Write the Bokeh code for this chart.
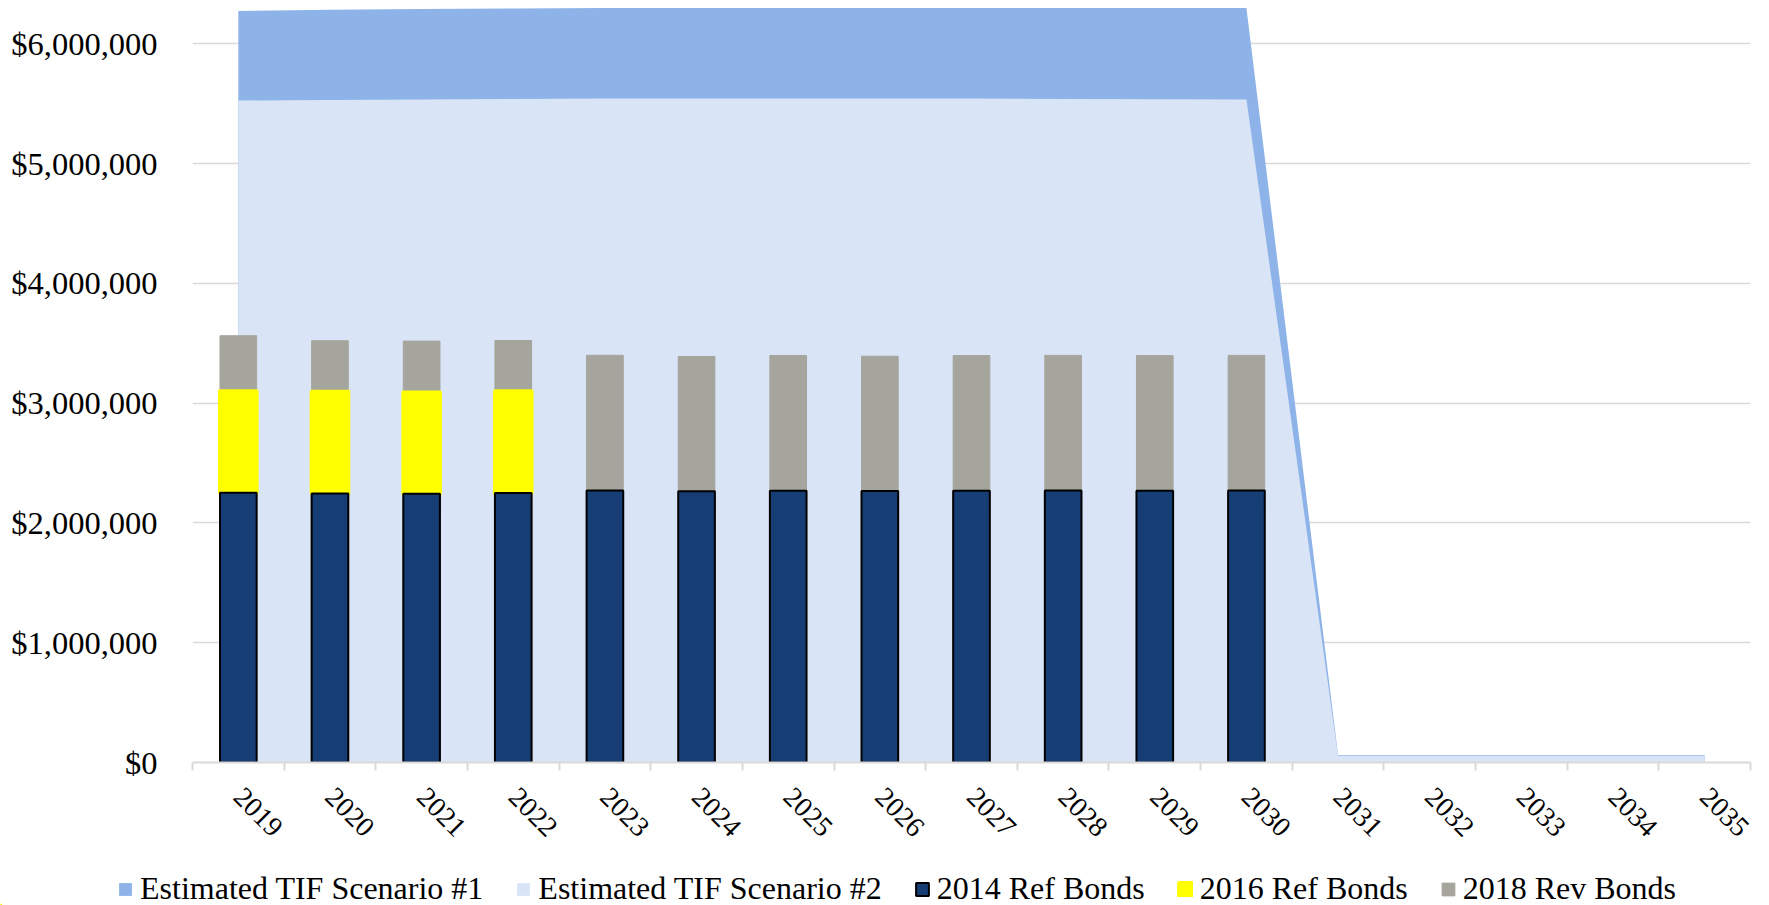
import math

from bokeh.embed import file_html
from bokeh.layouts import column
from bokeh.models import (ColumnDataSource, FixedTicker, Legend, LegendItem, LinearAxis,
                          NumeralTickFormatter, Range1d, SingleIntervalTicker)
from bokeh.plotting import figure
from bokeh.resources import INLINE

# ---- data -------------------------------------------------------------
years = [str(y) for y in range(2019, 2036)]

tif_scenario_1 = [6275000, 6285000, 6290000, 6295000, 6300000, 6300000, 6300000,
                  6300000, 6300000, 6300000, 6300000, 6300000,
                  60000, 60000, 60000, 60000, 60000]
tif_scenario_2 = [5527000, 5532000, 5536000, 5540000, 5543000, 5543000, 5543000,
                  5543000, 5543000, 5540000, 5538000, 5535000,
                  55000, 55000, 55000, 55000, 55000]

bond_years = years[:12]
ref_bonds_2014 = [2252000, 2246000, 2244000, 2249000, 2270000, 2265000, 2268000,
                  2266000, 2268000, 2271000, 2268000, 2270000]
ref_bonds_2016 = [848000, 849000, 845000, 851000, 0, 0, 0, 0, 0, 0, 0, 0]
rev_bonds_2018 = [463000, 426000, 429000, 423000, 1130000, 1125000, 1130000,
                  1126000, 1129000, 1128000, 1129000, 1129000]

series_names = ["Estimated TIF Scenario #1", "Estimated TIF Scenario #2",
                "2014 Ref Bonds", "2016 Ref Bonds", "2018 Rev Bonds"]

y_max = 6320000

FONT = "Liberation Serif"
C_TIF1 = "#8db3e8"
C_TIF2 = "#d9e5f7"
C_2014 = "#173d75"
C_2016 = "#ffff00"
C_2018 = "#a5a59d"
C_GRID = "#d9d9d9"

W = 1769
CHART_H = 856
KEY_H = 49

# ---- sources ----------------------------------------------------------
# each year sits in a unit-wide slot; slot k is centred on k
slot = {y: i for i, y in enumerate(years)}
area_src = ColumnDataSource(dict(x=[slot[y] for y in years],
                                 s1=tif_scenario_1, s2=tif_scenario_2))

b1 = ref_bonds_2014
b2 = [a + b for a, b in zip(b1, ref_bonds_2016)]
b3 = [a + b for a, b in zip(b2, rev_bonds_2018)]
bx = [slot[y] for y in bond_years]
bar_src = ColumnDataSource(dict(x=bx, top14=b1, top16=b2, top18=b3,
                                bottom=[0] * len(bond_years)))
has16 = [i for i, v in enumerate(ref_bonds_2016) if v > 0]
bar16_src = ColumnDataSource(dict(x=[bx[i] for i in has16],
                                  top14=[b1[i] for i in has16],
                                  top16=[b2[i] for i in has16]))

# ---- chart ------------------------------------------------------------
p = figure(width=W, height=CHART_H,
           x_range=Range1d(-0.5, len(years) - 0.5),
           y_range=Range1d(0, y_max),
           x_axis_location=None,
           output_backend="svg", toolbar_location=None,
           min_border_left=192, min_border_right=19,
           min_border_top=5, min_border_bottom=CHART_H - 762)
p.frame_align = False
p.outline_line_color = None
p.background_fill_color = "white"
p.border_fill_color = "white"

for g in p.xgrid:
    g.visible = False
p.ygrid.grid_line_color = C_GRID
p.ygrid.grid_line_width = 1.5
p.ygrid.ticker = SingleIntervalTicker(interval=1000000, num_minor_ticks=0)

# y axis
yax = p.yaxis[0]
yax.ticker = SingleIntervalTicker(interval=1000000, num_minor_ticks=0)
yax.formatter = NumeralTickFormatter(format="$0,0")
yax.axis_line_color = None
yax.major_tick_line_color = None
yax.minor_tick_line_color = None
yax.major_label_standoff = 29
yax.major_label_text_font = FONT
yax.major_label_text_font_size = "32.5px"
yax.major_label_text_color = "black"

# x axis: year labels at slot centres, short tick marks on the slot edges
centres = list(slot.values())
edges = [i - 0.5 for i in range(len(years) + 1)]
year_axis = LinearAxis(ticker=FixedTicker(ticks=centres, minor_ticks=edges),
                       major_label_overrides={v: k for k, v in slot.items()},
                       axis_line_color=C_GRID, axis_line_width=2,
                       major_tick_line_color=None,
                       major_tick_in=0, major_tick_out=8,
                       minor_tick_line_color=C_GRID, minor_tick_line_width=2,
                       minor_tick_in=0, minor_tick_out=8,
                       major_label_orientation=-math.pi / 4,
                       major_label_standoff=22,
                       major_label_text_font=FONT,
                       major_label_text_font_size="28px",
                       major_label_text_color="black")
p.add_layout(year_axis, "below")

r_tif1 = p.varea(x="x", y1=0, y2="s1", source=area_src, fill_color=C_TIF1)
r_tif2 = p.varea(x="x", y1=0, y2="s2", source=area_src, fill_color=C_TIF2)

bar_w = 0.40
STYLE_2018 = dict(fill_color=C_2018, line_color=C_2018, line_width=1)
STYLE_2016 = dict(fill_color=C_2016, line_color=C_2016, line_width=4, line_join="round")
STYLE_2014 = dict(fill_color=C_2014, line_color="black", line_width=2)

p.vbar(x="x", bottom="top16", top="top18", width=bar_w, source=bar_src, **STYLE_2018)
p.vbar(x="x", bottom="top14", top="top16", width=bar_w, source=bar16_src, **STYLE_2016)
p.vbar(x="x", bottom="bottom", top="top14", width=bar_w, source=bar_src, **STYLE_2014)

# ---- key strip under the chart -----------------------------------------
key = figure(width=W, height=KEY_H,
             x_range=Range1d(0, W), y_range=Range1d(0, KEY_H),
             x_axis_location=None, y_axis_location=None,
             output_backend="svg", toolbar_location=None,
             min_border=0, min_border_left=0, min_border_right=0,
             min_border_top=0, min_border_bottom=0)
key.frame_align = False
key.outline_line_color = None
key.grid.visible = False
key.background_fill_color = "white"
key.border_fill_color = "white"

# swatch renderers for the key; their single sample sits left of the strip's range
def swatch_source():
    return ColumnDataSource(dict(x=[-10], top=[0], bottom=[0]))

k1 = key.varea(x="x", y1="bottom", y2="top", source=swatch_source(), fill_color=C_TIF1)
k2 = key.varea(x="x", y1="bottom", y2="top", source=swatch_source(), fill_color=C_TIF2)
k3 = key.vbar(x="x", top="top", bottom="bottom", width=1, source=swatch_source(), **STYLE_2014)
k4 = key.vbar(x="x", top="top", bottom="bottom", width=1, source=swatch_source(), **STYLE_2016)
k5 = key.vbar(x="x", top="top", bottom="bottom", width=1, source=swatch_source(), **STYLE_2018)

legend = Legend(items=[LegendItem(label=n, renderers=[r])
                       for n, r in zip(series_names, [k1, k2, k3, k4, k5])],
                orientation="horizontal", location=(117, -2))
legend.label_text_font = FONT
legend.label_text_font_size = "32px"
legend.label_text_color = "black"
legend.glyph_width = 16
legend.glyph_height = 16
legend.label_standoff = 7
legend.spacing = 32
legend.padding = 0
legend.margin = 0
legend.border_line_color = None
legend.background_fill_alpha = 0
key.add_layout(legend)

page = column(p, key, spacing=0)
open("out.html", "w").write(file_html(page, INLINE))
